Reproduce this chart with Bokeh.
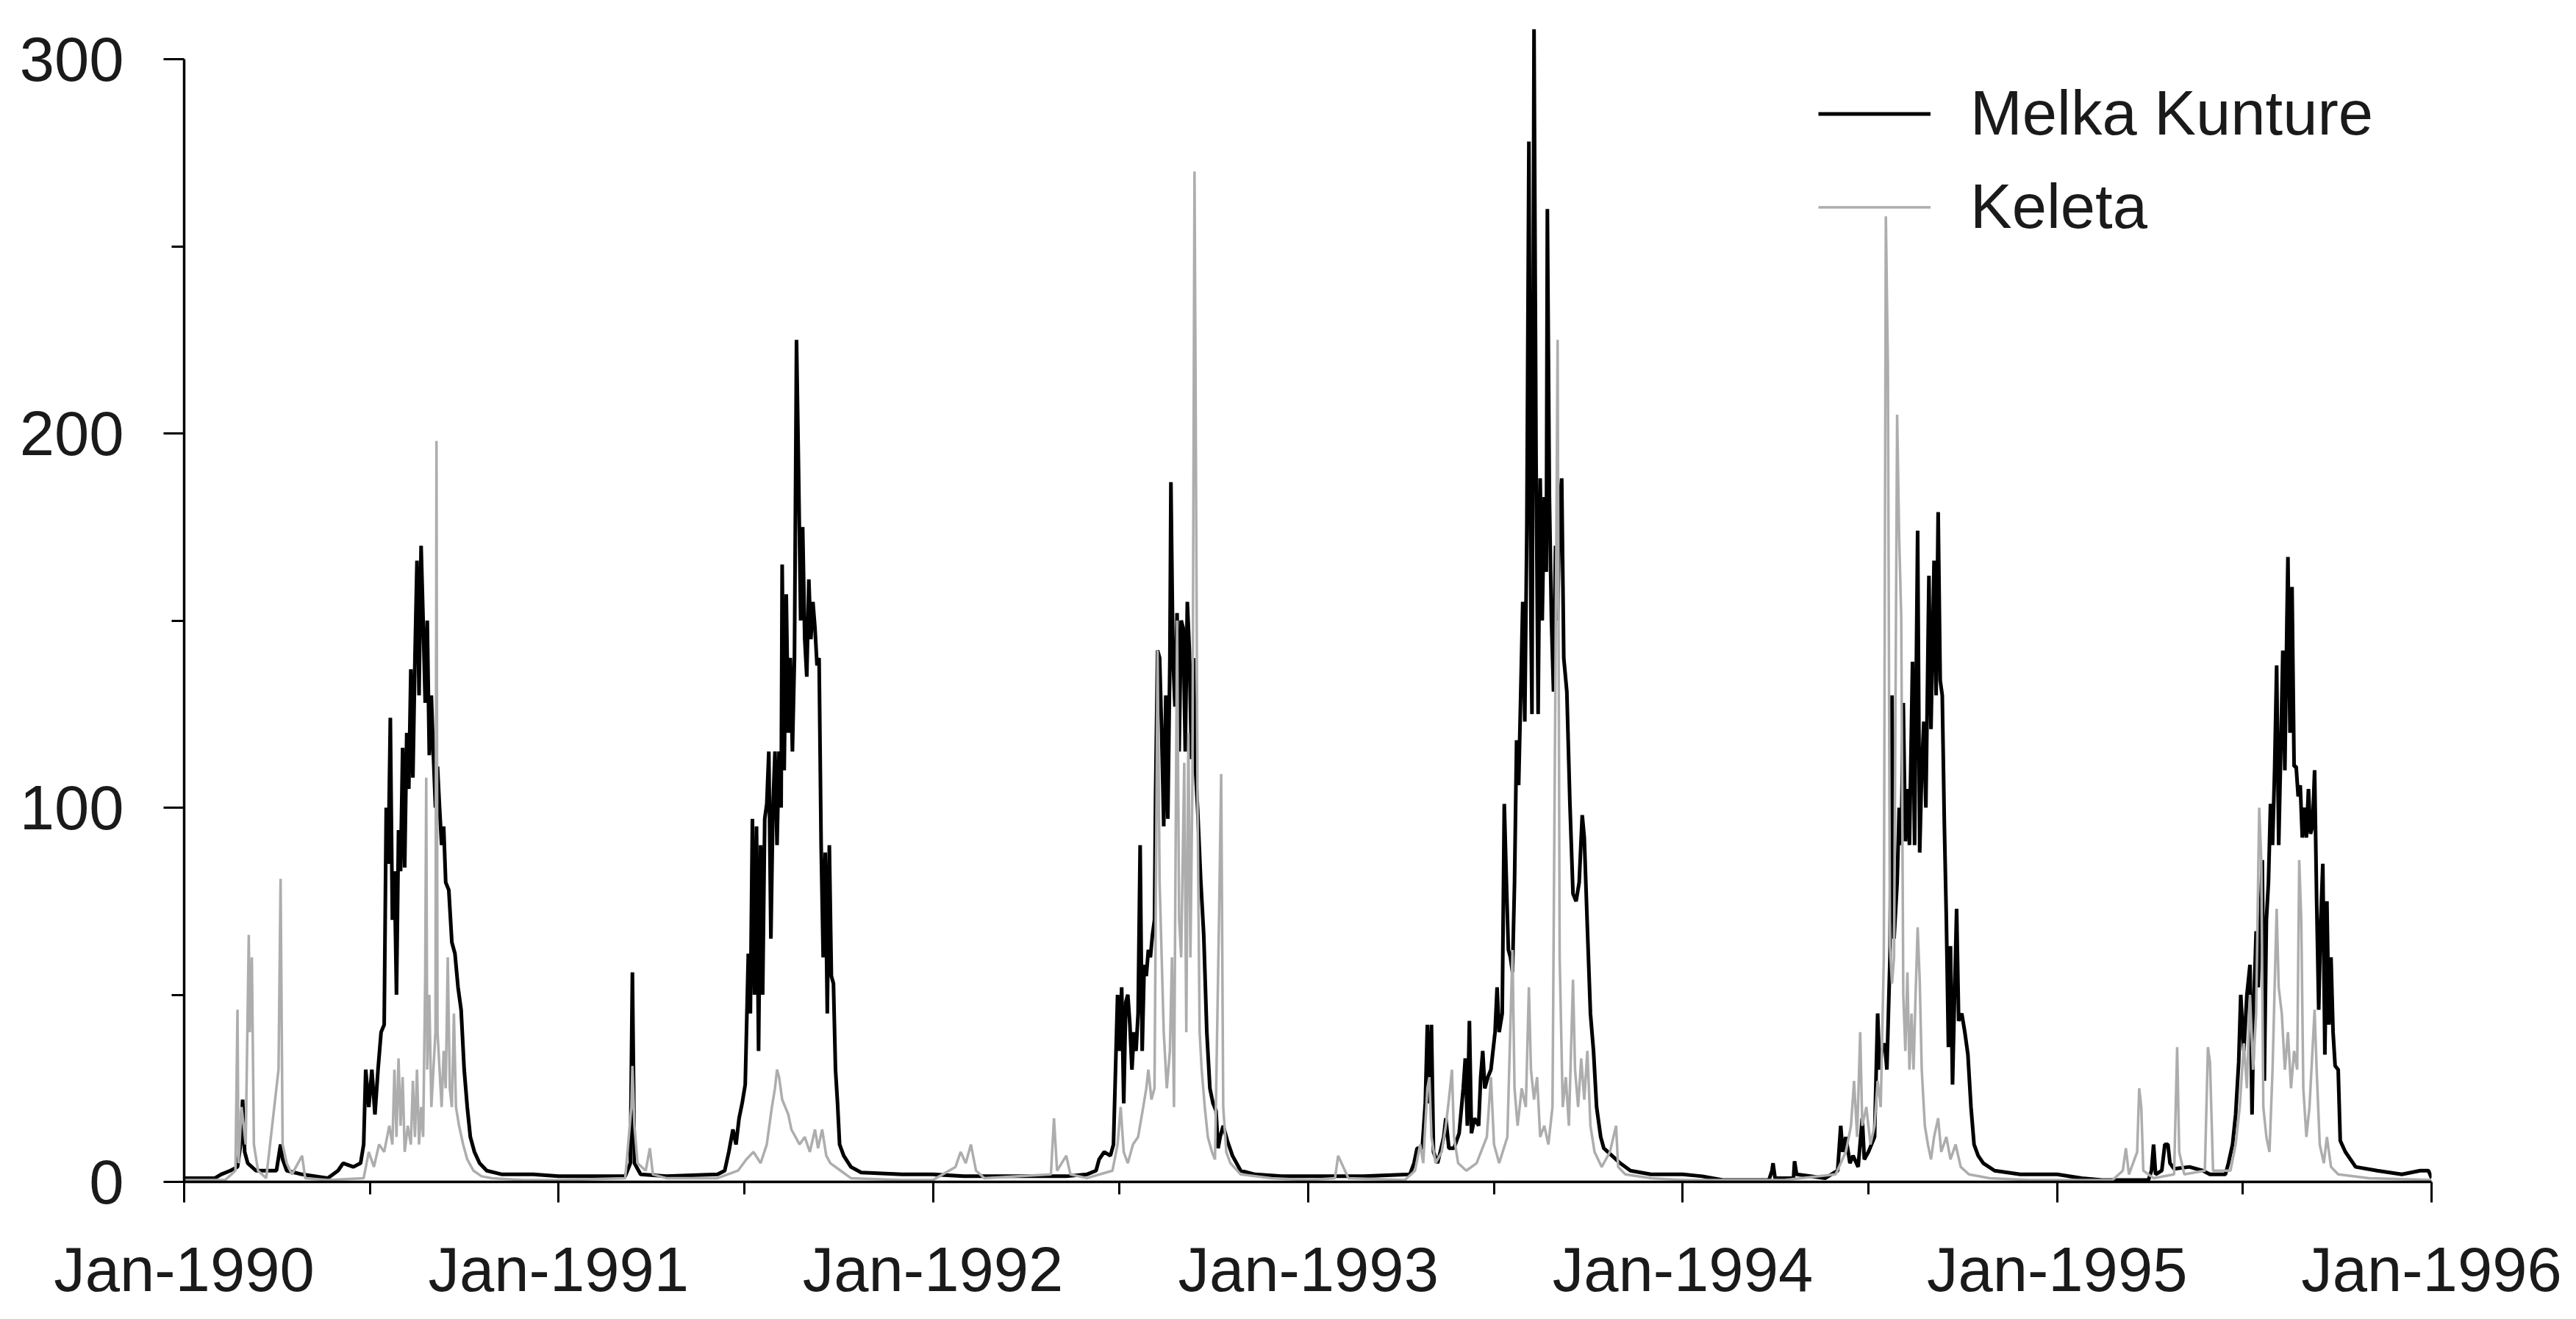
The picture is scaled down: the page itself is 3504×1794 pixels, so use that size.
import datetime as dt
import numpy as np
from bokeh.plotting import figure
from bokeh.models import (FixedTicker, DatetimeTickFormatter, Legend, LegendItem,
                          Range1d, ColumnDataSource)
from bokeh.embed import file_html
from bokeh.resources import INLINE

# ---------------- data (day number since 1990-01-01, flow) ----------------
start_date = "1990-01-01"

mk_1990 = [(0,1),(30,1),(36,2),(45,3),(52,4),(55,10),(57,22),(59,8),(62,5),(70,3),(90,3),(94,10),(96,6),(100,3),(115,2),(140,1),(150,3),(155,5),(165,4),(172,5),(175,10),(177,30),(180,20),(183,30),(186,18),(189,30),(192,40),(195,42),(197,100),(199,85),(201,124),(203,70),(205,83),(207,50),(209,94),(211,83),(213,116),(215,84),(217,120),(219,105),(221,137),(223,108),(225,140),(227,166),(229,130),(231,170),(233,150),(235,128),(237,150),(239,114),(241,130),(243,114),(245,100),(247,111),(249,100),(251,90),(253,95),(255,80),(258,78),(261,64),(264,61),(267,52),(270,46),(273,30),(276,20),(279,12),(283,8),(288,5),(295,3),(310,2),(340,2)]
mk_1991 = [(365,1.5),(400,1.5),(430,1.5),(435,5),(437,56),(439,5),(445,2),(470,1.5),(520,2),(527,3),(531,8),(535,14),(538,10),(541,17),(544,21),(547,26),(550,61),(552,45),(554,97),(556,50),(558,95),(560,35),(562,90),(564,50),(566,97),(568,101),(570,115),(572,65),(574,100),(576,115),(578,90),(580,115),(582,100),(583,165),(585,110),(587,157),(589,120),(591,140),(593,115),(595,140),(597,225),(599,190),(601,150),(603,175),(605,145),(607,135),(609,161),(611,145),(613,155),(615,148),(617,138),(619,140),(621,90),(623,60),(625,88),(627,45),(629,90),(631,55),(633,53),(635,30),(637,21),(639,10),(643,7),(650,4),(660,2.5),(700,2)]
mk_1992 = [(730,2),(760,1.5),(860,1.5),(880,2),(889,3),(892,6),(897,8),(903,7),(906,10),(908,30),(910,50),(912,35),(914,52),(916,21),(918,48),(920,50),(922,42),(924,30),(926,40),(928,35),(930,45),(932,90),(934,35),(936,58),(938,55),(940,62),(942,60),(944,66),(946,70),(947,102),(949,142),(951,140),(953,120),(955,95),(957,130),(959,97),(961,140),(962,187),(964,140),(966,127),(968,152),(970,115),(972,150),(974,148),(976,115),(978,155),(980,142),(982,113),(984,140),(986,110),(988,100),(991,81),(994,66),(997,40),(1000,25),(1003,21),(1006,19),(1008,9),(1010,12),(1013,15),(1017,11),(1022,7),(1030,3),(1044,2),(1070,1.5)]
mk_1993 = [(1096,1.5),(1150,1.5),(1195,2),(1199,5),(1202,9),(1207,9),(1210,21),(1212,42),(1214,21),(1216,42),(1218,8),(1222,5),(1228,12),(1230,17),(1233,9),(1238,9),(1243,13),(1247,25),(1249,33),(1251,15),(1253,43),(1255,13),(1258,17),(1262,15),(1264,28),(1266,35),(1268,25),(1271,28),(1274,30),(1276,35),(1278,40),(1280,52),(1282,40),(1285,45),(1287,101),(1289,81),(1291,62),(1293,60),(1295,56),(1297,80),(1299,118),(1301,106),(1303,130),(1305,155),(1307,123),(1309,175),(1311,278),(1313,150),(1314,125),(1316,308),(1318,193),(1320,125),(1322,188),(1324,150),(1326,183),(1328,163),(1329,260),(1331,183),(1333,150),(1335,131),(1337,170),(1339,150),(1341,181),(1343,188),(1345,140),(1348,131),(1351,101),(1354,77),(1357,75),(1360,80),(1363,98),(1365,92),(1368,68),(1371,45),(1374,35),(1377,20),(1381,12),(1384,9),(1392,7),(1400,5),(1410,3),(1430,2)]
mk_1994 = [(1461,2),(1480,1.5),(1500,0.5),(1545,0.5),(1548,3),(1549,5),(1551,1),(1569,1),(1570,5.5),(1572,2),(1600,1),(1612,3),(1615,15),(1617,8),(1620,12),(1624,5),(1627,7),(1632,4),(1636,17),(1638,6),(1642,8),(1648,12),(1651,45),(1653,30),(1655,35),(1658,37),(1660,30),(1663,60),(1665,130),(1667,65),(1670,80),(1672,100),(1674,90),(1676,128),(1678,91),(1680,105),(1682,90),(1685,139),(1687,90),(1690,174),(1692,88),(1694,110),(1696,123),(1698,100),(1701,162),(1703,121),(1706,166),(1708,130),(1710,179),(1712,134),(1714,130),(1716,96),(1718,70),(1720,36),(1722,63),(1724,26),(1726,50),(1728,73),(1730,43),(1733,45),(1736,40),(1739,34),(1742,20),(1745,10),(1749,7),(1754,5),(1765,3),(1790,2)]
mk_1995 = [(1826,2),(1850,1),(1870,0.5),(1915,0.5),(1918,3),(1920,10),(1922,2),(1928,3),(1931,10),(1934,10),(1936,5),(1940,3.5),(1955,4),(1968,3),(1975,2),(1990,2),(1993,5),(1997,10),(2000,18),(2003,32),(2005,50),(2008,35),(2011,50),(2014,58),(2016,18),(2018,50),(2020,67),(2022,52),(2024,70),(2026,86),(2028,27),(2030,70),(2032,80),(2034,101),(2036,90),(2038,110),(2040,138),(2042,90),(2044,115),(2046,142),(2048,110),(2050,150),(2051,167),(2053,120),(2055,159),(2057,111),(2059,111),(2061,103),(2063,106),(2065,92),(2067,100),(2069,92),(2071,105),(2073,93),(2075,95),(2077,110),(2079,75),(2081,46),(2083,70),(2085,85),(2087,34),(2089,75),(2091,42),(2093,60),(2095,40),(2097,31),(2100,30),(2102,11),(2107,8),(2117,4),(2138,3),(2162,2),(2180,3),(2188,3),(2191,1)]

ke_1990 = [(0,0.5),(40,0.5),(50,3),(52,46),(53,5),(56,20),(60,10),(63,66),(64,40),(66,60),(68,10),(72,3),(80,1),(92,30),(94,81),(96,10),(100,5),(105,2),(115,7),(118,1),(140,0.5),(175,1),(180,8),(185,4),(190,10),(195,8),(200,15),(203,10),(205,30),(207,12),(209,33),(211,15),(213,28),(215,8),(218,15),(221,10),(223,27),(225,12),(227,30),(229,10),(231,20),(233,12),(235,55),(236,108),(237,30),(239,50),(241,20),(243,30),(245,40),(246,198),(247,40),(249,30),(251,20),(253,35),(255,25),(257,60),(259,25),(261,20),(263,45),(265,20),(268,15),(272,10),(276,6),(282,3),(290,1.5),(300,1),(330,0.5)]
ke_1991 = [(365,0.5),(430,1),(436,20),(437,31),(439,15),(442,5),(450,3),(454,9),(457,2),(470,1),(520,1),(540,3),(548,6),(555,8),(562,5),(568,10),(573,20),(576,25),(578,30),(580,28),(583,22),(586,20),(589,18),(592,14),(596,12),(600,10),(605,12),(610,8),(615,14),(618,9),(622,14),(626,7),(630,5),(640,3),(650,1),(700,0.5)]
ke_1992 = [(730,0.5),(752,4),(757,8),(762,5),(767,10),(772,3),(780,1),(845,2),(848,17),(851,3),(860,7),(864,2),(880,1),(905,3),(910,10),(913,20),(916,8),(920,5),(925,10),(930,12),(935,20),(938,25),(940,30),(943,22),(946,25),(949,142),(951,80),(953,60),(955,40),(958,25),(961,35),(963,60),(965,20),(968,150),(970,70),(972,60),(975,112),(977,40),(979,120),(981,60),(983,108),(985,270),(986,216),(988,100),(990,40),(992,30),(995,20),(998,12),(1002,8),(1005,6),(1009,72),(1011,109),(1013,20),(1016,8),(1020,5),(1030,2),(1060,1)]
ke_1993 = [(1096,0.5),(1122,1),(1125,7),(1130,4),(1135,1),(1190,0.5),(1200,3),(1205,10),(1208,5),(1212,25),(1214,28),(1216,12),(1220,5),(1226,8),(1230,15),(1233,22),(1236,30),(1238,12),(1242,5),(1250,3),(1260,5),(1270,12),(1274,28),(1277,10),(1282,5),(1290,12),(1295,62),(1297,25),(1300,15),(1304,25),(1308,20),(1311,52),(1313,30),(1316,22),(1319,28),(1322,12),(1326,15),(1330,10),(1334,20),(1337,140),(1339,225),(1341,60),(1344,20),(1347,28),(1350,15),(1354,54),(1356,30),(1359,20),(1362,33),(1365,22),(1368,35),(1371,15),(1375,8),(1382,4),(1390,8),(1396,15),(1398,4),(1405,2),(1430,1)]
ke_1994 = [(1461,0.5),(1560,0.5),(1610,2),(1620,8),(1625,15),(1628,27),(1631,12),(1634,40),(1636,15),(1640,20),(1644,10),(1648,15),(1651,27),(1654,20),(1657,60),(1659,258),(1661,218),(1663,63),(1665,53),(1667,60),(1670,205),(1672,172),(1674,151),(1676,50),(1678,35),(1680,56),(1682,30),(1684,45),(1686,30),(1688,50),(1690,68),(1692,54),(1694,30),(1697,15),(1700,10),(1703,6),(1706,12),(1710,17),(1713,8),(1718,12),(1722,6),(1727,10),(1732,4),(1740,2),(1760,1),(1800,0.5)]
ke_1995 = [(1826,0.5),(1880,0.5),(1890,3),(1893,9),(1896,2),(1904,8),(1906,25),(1908,20),(1910,3),(1920,1),(1940,2),(1943,36),(1945,8),(1950,2),(1970,3),(1973,36),(1975,32),(1978,3),(1995,3),(2000,10),(2004,20),(2008,37),(2011,25),(2014,50),(2017,30),(2020,45),(2023,100),(2025,86),(2027,20),(2030,12),(2033,8),(2036,30),(2040,73),(2042,52),(2045,45),(2048,30),(2051,40),(2054,25),(2057,35),(2060,30),(2062,86),(2064,70),(2066,25),(2069,12),(2072,20),(2077,46),(2079,30),(2082,10),(2086,5),(2089,12),(2093,4),(2100,2),(2130,1),(2191,0.5)]

series_names = ["Melka Kunture", "Keleta"]
tick_years = [1990, 1991, 1992, 1993, 1994, 1995, 1996]
y_ticks = [0, 100, 200, 300]
y_minor_ticks = [50, 150, 250]

# ---------------- build ----------------
def to_source(parts):
    pts = [pt for part in parts for pt in part]
    days = np.array([d for d, _ in pts], dtype="int64")
    vals = np.array([v for _, v in pts], dtype=float)
    dates = np.datetime64(start_date) + days.astype("timedelta64[D]")
    return ColumnDataSource(dict(x=dates, y=vals))

mk_src = to_source([mk_1990, mk_1991, mk_1992, mk_1993, mk_1994, mk_1995])
ke_src = to_source([ke_1990, ke_1991, ke_1992, ke_1993, ke_1994, ke_1995])

def ms(y, m=1):
    return (dt.datetime(y, m, 1) - dt.datetime(1970, 1, 1)).total_seconds() * 1000.0

FONT = "Liberation Sans"

p = figure(width=3496, height=1786, x_axis_type="datetime",
           output_backend="svg", toolbar_location=None,
           x_range=Range1d(dt.datetime(tick_years[0], 1, 1), dt.datetime(tick_years[-1], 1, 1)),
           y_range=Range1d(0, 311.8),
           min_border_left=250, min_border_right=189,
           min_border_top=20, min_border_bottom=179)
p.outline_line_color = None
p.xgrid.visible = False
p.ygrid.visible = False
p.background_fill_color = "white"
p.border_fill_color = "white"

r_mk = p.line("x", "y", source=mk_src, line_color="black", line_width=5)
r_ke = p.line("x", "y", source=ke_src, line_color="#adadad", line_width=3.5)

p.xaxis.ticker = FixedTicker(ticks=[ms(y) for y in tick_years],
                             minor_ticks=[ms(y, 7) for y in tick_years[:-1]])
fmt = "%b-%Y"
p.xaxis.formatter = DatetimeTickFormatter(years=fmt, months=fmt, days=fmt, hours=fmt,
                                          hourmin=fmt, minutes=fmt, minsec=fmt, seconds=fmt,
                                          milliseconds=fmt, microseconds=fmt)
p.yaxis.ticker = FixedTicker(ticks=y_ticks, minor_ticks=y_minor_ticks)
p.yaxis.bounds = (y_ticks[0], y_ticks[-1])

for ax in (p.xaxis[0], p.yaxis[0]):
    ax.axis_line_width = 3.5
    ax.axis_line_color = "black"
    ax.major_tick_line_width = 3
    ax.minor_tick_line_width = 3
    ax.major_tick_line_color = "black"
    ax.minor_tick_line_color = "black"
    ax.major_tick_in = 0
    ax.minor_tick_in = 0
    ax.major_tick_out = 28
    ax.minor_tick_out = 17
    ax.major_label_text_font = FONT
    ax.major_label_text_font_size = "85px"
    ax.major_label_text_color = "#1a1a1a"
p.xaxis.major_label_standoff = 43
p.yaxis.major_label_standoff = 54

legend = Legend(items=[LegendItem(label=series_names[0], renderers=[r_mk]),
                       LegendItem(label=series_names[1], renderers=[r_ke])],
                location=(2223, 1277), orientation="vertical",
                glyph_width=153, glyph_height=95, label_height=95,
                label_standoff=54, spacing=29, padding=0, margin=0,
                label_text_font=FONT, label_text_font_size="85px",
                label_text_color="#1a1a1a",
                border_line_color=None, background_fill_alpha=0)
p.add_layout(legend)

open("out.html", "w").write(file_html(p, INLINE))
